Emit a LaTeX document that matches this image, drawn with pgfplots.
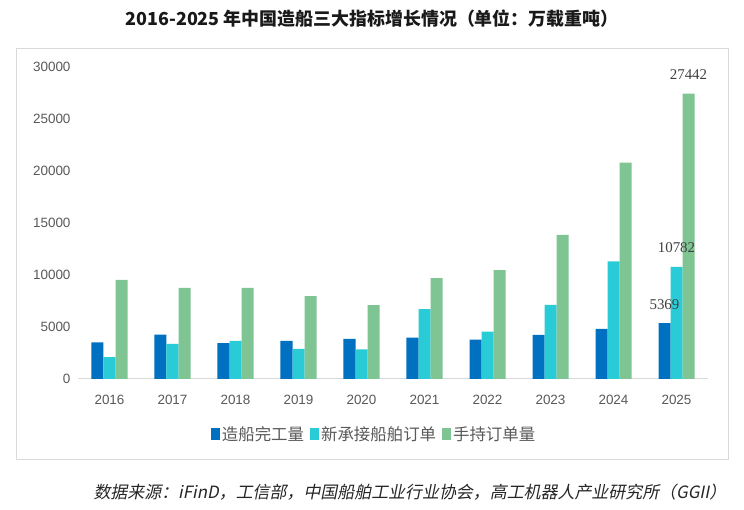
\documentclass[border=0pt]{standalone}
\usepackage{pgfplots}
\pgfplotsset{compat=1.18}
\usepackage{fontspec}
\setmainfont{Noto Sans CJK SC}
\newfontfamily\numfont{Liberation Sans}
\newfontfamily\serfont{Liberation Serif}
\newfontfamily\srcfont[FakeSlant=0.2]{Noto Sans CJK SC}
\definecolor{cblue}{HTML}{0070C0}
\definecolor{ccyan}{HTML}{29CCD6}
\definecolor{cgreen}{HTML}{7FC493}
\definecolor{cgrid}{HTML}{D9D9D9}
\definecolor{ctick}{HTML}{595959}
\definecolor{clab}{HTML}{404040}
\begin{document}
\begin{tikzpicture}
\useasboundingbox (0,0) rectangle (744bp,510bp);
\fill[white] (0,0) rectangle (744bp,510bp);
\draw[cgrid, line width=1bp] (16.5bp,50bp) rectangle (728bp,461bp);
\node[font=\bfseries\fontsize{18}{18}\selectfont, text=black!90] at (372bp,491bp) {2016-2025 年中国造船三大指标增长情况（单位：万载重吨）};
\node[font=\srcfont\fontsize{17}{18}\selectfont, text=black!85, anchor=west] at (90bp,18bp) {数据来源：iFinD，工信部，中国船舶工业行业协会，高工机器人产业研究所（GGII）};
\begin{axis}[
  at={(78bp,131bp)}, anchor=south west,
  scale only axis, width=630bp, height=312bp,
  ybar=0pt, bar width=12bp,
  xmin=-0.5, xmax=9.5, ymin=0, ymax=30000,
  xtick={0,...,9},
  xticklabels={2016,2017,2018,2019,2020,2021,2022,2023,2024,2025},
  ytick={0,5000,...,30000},
  scaled ticks=false,
  /pgf/number format/1000 sep={},
  /pgf/number format/assume math mode=true,
  tick style={draw=none},
  axis y line*=left,
  y axis line style={draw=none},
  axis x line*=bottom,
  x axis line style={cgrid, line width=1bp, -},
  xticklabel style={font=\numfont\fontsize{13.5}{14}\selectfont, text=ctick, yshift=-8bp},
  yticklabel style={font=\numfont\fontsize{13.5}{14}\selectfont, text=ctick, xshift=-4bp},
  clip=false,
  point meta=explicit symbolic,
  nodes near coords,
  nodes near coords style={font=\serfont\fontsize{15}{15}\selectfont, text=clab, anchor=center, yshift=19bp},
  legend style={at={(0.47,-0.176)}, anchor=center, draw=none, fill=none,
    font=\fontsize{16.5}{16.5}\selectfont, text=ctick,
    legend columns=-1, /tikz/every even column/.append style={column sep=4bp}},
  legend image code/.code={\fill[#1] (0bp,-6bp) rectangle (9bp,6bp);},
]
\addplot[fill=cblue, draw=none] coordinates {
(0,3532) [] (1,4268) [] (2,3458) [] (3,3672) [] (4,3853) [] (5,3970) [] (6,3786) [] (7,4232) [] (8,4818) [] (9,5369) [5369]};
\addplot[fill=ccyan, draw=none] coordinates {
(0,2107) [] (1,3373) [] (2,3667) [] (3,2907) [] (4,2853) [] (5,6707) [] (6,4552) [] (7,7120) [] (8,11305) [] (9,10782) [10782]};
\addplot[fill=cgreen, draw=none] coordinates {
(0,9520) [] (1,8750) [] (2,8750) [] (3,7980) [] (4,7115) [] (5,9710) [] (6,10480) [] (7,13850) [] (8,20800) [] (9,27442) [27442]};
\legend{造船完工量,新承接船舶订单,手持订单量}
\end{axis}
\end{tikzpicture}
\end{document}
